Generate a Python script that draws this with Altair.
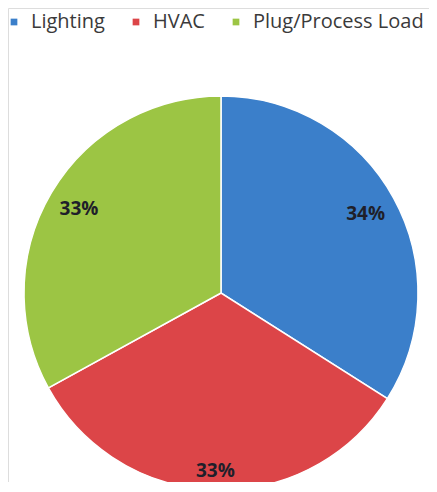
import altair as alt
import pandas as pd

categories = ["Lighting", "HVAC", "Plug/Process Load"]
values = [34, 33, 33]
labels = ["34%", "33%", "33%"]
colors = ["#3b7fca", "#dc4548", "#9cc544"]

df = pd.DataFrame({"category": categories, "value": values, "label": labels,
                   "order": [0, 1, 2]})

cx, cy, R = 213, 285, 197
TWO_PI = 6.283185307179586

stack = alt.Chart(df).transform_window(
    cum="sum(value)", frame=[None, 0], sort=[alt.SortField("order")]
).transform_joinaggregate(total="sum(value)").transform_calculate(
    start="(datum.cum - datum.value) / datum.total * 2 * PI",
    end="datum.cum / datum.total * 2 * PI",
    mid="(datum.cum - datum.value/2) / datum.total * 2 * PI",
)

tscale = alt.Scale(domain=[0, TWO_PI], range=[0, TWO_PI])

pie = stack.mark_arc(stroke="white", strokeWidth=1.5).encode(
    x=alt.value(cx), y=alt.value(cy),
    theta=alt.Theta("start:Q", scale=tscale),
    theta2="end:Q",
    radius=alt.value(R),
    color=alt.Color(
        "category:N",
        scale=alt.Scale(domain=categories, range=colors),
        sort=categories,
        legend=alt.Legend(
            title=None, orient="none", legendX=-4, legendY=4,
            direction="horizontal", symbolType="square", symbolSize=45,
            labelFontSize=20, labelFont="Open Sans", labelColor="#3a3a3a",
            labelOffset=7, columnPadding=21, labelLimit=300,
            symbolStrokeWidth=0,
        ),
    ),
)


def label_layer(r, cond):
    return stack.transform_filter(cond).mark_text(
        font="Open Sans", fontWeight="bold", fontSize=19, color="#1f1f2a"
    ).encode(
        x=alt.value(cx), y=alt.value(cy),
        theta=alt.Theta("mid:Q", scale=tscale),
        radius=alt.value(r),
        text="label:N",
    )


lab1 = label_layer(165, alt.datum.category != "HVAC")
lab2 = label_layer(178, alt.datum.category == "HVAC")

chart = alt.layer(pie, lab1, lab2).properties(
    width=421, height=474, padding=0, autosize=alt.AutoSizeParams(type="none")
).configure_view(strokeWidth=0, stroke="transparent").configure(background="white")

chart.save("out.html", embed_options={"renderer": "svg", "actions": False})
